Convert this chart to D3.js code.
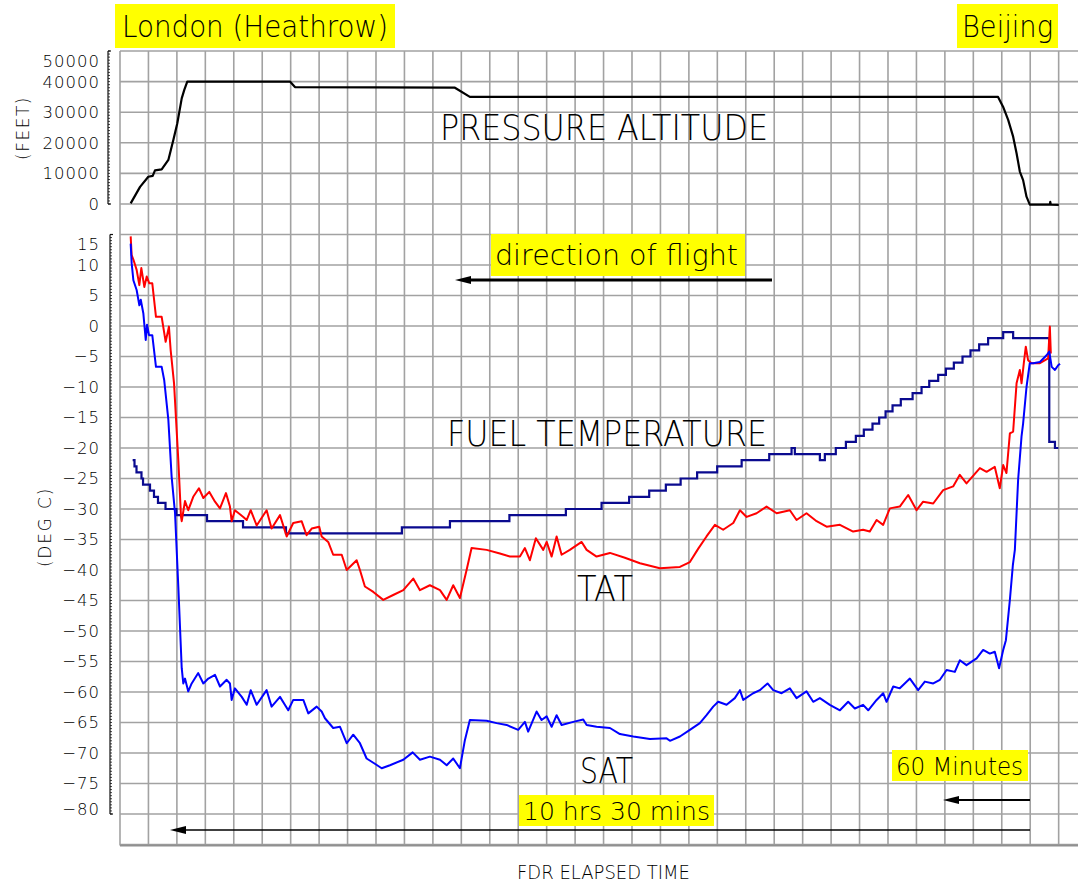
<!DOCTYPE html>
<html><head><meta charset="utf-8">
<script src="https://cdn.jsdelivr.net/npm/d3@7"></script>
<style>
body{margin:0;background:#fff}
svg{display:block}
text{font-family:"DejaVu Sans","Liberation Sans",sans-serif;font-weight:200;fill:#000}
</style>
</head><body>
<svg id="c" width="1078" height="885"></svg>
<script>
// ---------- DATA (time in minutes of FDR elapsed time) ----------
const altTicks = [0, 10000, 20000, 30000, 40000, 50000];
const tempTicks = [15, 10, 5, 0, -5, -10, -15, -20, -25, -30, -35, -40, -45, -50, -55, -60, -65, -70, -75, -80];

// Pressure altitude (feet)
const altitude = [
  [7.5,200],[14.1,5600],[19.9,8900],[23.0,9200],[24.6,11000],[29.3,11300],[34.0,14400],
  [37.5,20900],[40.3,26400],[43.4,34500],[45.2,37300],[47.3,40000],[119.5,40000],[123.0,38200],
  [235.5,38000],[246.0,35000],[617.4,35000],[620.9,31800],[624.5,27500],[628.0,22000],
  [630.4,16600],[632.7,10600],[635.0,7800],[637.4,2400],[639.7,-200],[653.8,-200],[654.1,700],
  [654.5,-200],[660.1,-300]
];

// Total air temperature (deg C)
const tat = [
  [7.5,14.7],[8.2,11.6],[9.4,10.9],[11.7,9.2],[13.6,6.7],[15.0,9.5],[17.1,6.4],[18.8,8.1],[20.6,7.0],
  [22.7,7.0],[25.3,1.5],[29.3,1.5],[32.1,-2.6],[34.4,-0.1],[35.6,-3.9],[38.0,-9.4],[41.0,-22],
  [42.9,-31.3],[43.4,-32],[45.7,-28.7],[48.0,-30.2],[51.5,-28],[55.5,-26.6],[58.6,-28.2],[62.8,-27.2],
  [66.8,-28.8],[70.3,-29.9],[74.5,-27.4],[77.3,-29.6],[78.5,-32],[80.8,-30.2],[86.7,-31.3],[89.1,-31.8],
  [91.9,-30.2],[96.1,-32.7],[103.1,-30.2],[106.6,-33.2],[112.5,-31],[117.2,-34.5],[121.8,-32.3],
  [127.7,-32],[131.2,-34.3],[134.8,-33.2],[140.1,-32.9],[141.8,-34.5],[146.4,-35.4],[149.9,-37.5],
  [155.9,-37.5],[159.4,-40],[166.4,-38.4],[168.7,-40],[172.2,-42.7],[178.1,-43.6],[185.1,-44.9],
  [192.1,-44.1],[199.2,-43.3],[206.2,-41.4],[210.9,-43.3],[217.9,-42.5],[225.0,-43.3],[229.7,-44.9],
  [234.3,-42.5],[239.0,-44.6],[243.7,-40],[247.2,-36.4],[257.8,-36.7],[267.1,-37.3],[274.2,-37.8],
  [281.2,-37.8],[284.7,-36.4],[288.2,-38.4],[292.4,-34.8],[297.6,-36.7],[300.0,-35.4],[303.5,-37.8],
  [307.0,-34.5],[310.5,-37.5],[316.3,-36.7],[324.6,-35.4],[328.1,-36.7],[335.1,-37.8],[344.5,-37.2],
  [355.0,-38],[365.6,-38.9],[379.6,-39.7],[393.7,-39.5],[400.7,-38.7],[406.6,-36.5],[412.4,-34.5],
  [418.3,-32.6],[424.1,-33.4],[431.2,-32.3],[435.9,-30.2],[440.6,-31.3],[447.6,-30.7],[454.6,-29.6],
  [461.7,-30.7],[471.0,-30.2],[475.7,-31.8],[482.7,-30.7],[489.8,-32],[496.8,-32.9],[506.2,-32.6],
  [515.5,-33.7],[522.5,-33.4],[527.2,-33.7],[532.0,-31.8],[536.6,-32.6],[541.3,-29.9],[548.3,-29.6],
  [554.2,-27.7],[560.1,-30.2],[564.7,-28.8],[571.8,-29.1],[578.8,-26.9],[585.8,-26.3],[590.5,-24.4],
  [595.2,-25.8],[604.6,-23.3],[609.3,-23.9],[615.1,-23.1],[618.6,-26.6],[621.0,-22.8],[623.3,-24.1],
  [625.7,-17.6],[628.0,-17.3],[630.4,-9.4],[632.7,-7.2],[633.9,-9.4],[635.5,-6.1],[636.9,-3.4],
  [638.5,-5.6],[640.9,-6.1],[646.8,-6.1],[652.6,-5.3],[653.8,-0.1],[654.5,-4.5]
];

// Static air temperature (deg C)
const sat = [
  [7.5,13.5],[8.2,10.3],[9.4,7.5],[11.7,5.9],[13.6,3.4],[14.6,4.3],[16.4,2.1],[18.1,-2.3],[19.0,0.2],
  [20.4,-1.5],[22.7,-1.5],[25.3,-6.7],[29.3,-6.7],[31.1,-8.9],[34.0,-15.4],[36.3,-24.7],[38.7,-30.7],
  [41.0,-42.7],[43.4,-56.1],[44.5,-58.6],[45.7,-57.8],[48.0,-59.9],[50.4,-58.6],[55.0,-56.9],
  [58.6,-58.6],[62.1,-57.8],[66.8,-57.2],[70.3,-59.1],[75.0,-58],[77.3,-58.6],[78.5,-61.3],[80.8,-59.4],
  [85.6,-60.8],[89.1,-62.1],[91.9,-59.7],[96.1,-62.1],[103.1,-59.7],[106.6,-62.4],[112.5,-60.8],
  [118.3,-63],[121.8,-61.3],[128.9,-61.3],[132.4,-63.5],[138.3,-62.4],[141.8,-63.2],[144.1,-64.3],
  [149.9,-65.9],[154.7,-65.7],[159.4,-68.4],[164.0,-67],[168.7,-68.4],[173.4,-70.9],[178.1,-71.6],
  [184.0,-72.5],[189.8,-72],[199.2,-71.1],[205.8,-69.9],[210.9,-71.1],[217.9,-70.6],[225.0,-71.1],
  [229.7,-72],[234.3,-70.9],[239.0,-72.5],[242.5,-67.9],[246.0,-64.6],[257.8,-64.7],[264.8,-65.1],
  [271.8,-65.4],[280.0,-66.2],[284.7,-64.9],[287.0,-66.5],[292.9,-63.2],[296.4,-64.6],[300.0,-64],
  [303.5,-65.7],[307.0,-63.8],[310.5,-65.4],[318.7,-64.9],[325.7,-64.5],[328.1,-65.4],[335.1,-65.7],
  [344.5,-65.9],[351.5,-66.9],[360.9,-67.3],[372.6,-67.7],[384.3,-67.6],[386.7,-68],[393.7,-67.3],
  [400.7,-66.2],[407.7,-65.1],[412.4,-63.8],[417.1,-62.4],[420.6,-61.6],[426.5,-62.1],[432.3,-61],
  [435.9,-59.7],[438.2,-61.3],[445.2,-60.2],[449.9,-59.7],[455.3,-58.6],[459.3,-59.7],[465.2,-60.2],
  [471.0,-59.4],[475.7,-61],[482.7,-59.9],[487.4,-61.6],[492.1,-61],[499.1,-62.1],[506.2,-63],
  [512.0,-61.6],[516.7,-62.7],[522.5,-62.1],[526.1,-63],[532.0,-61.3],[536.6,-60.2],[539.0,-61.6],
  [543.7,-59.1],[548.3,-59.4],[555.4,-57.8],[561.2,-59.7],[565.9,-58.3],[571.8,-58.6],[576.5,-58],
  [581.2,-56.4],[587.0,-56.7],[590.5,-54.8],[595.2,-55.6],[602.3,-54.5],[606.9,-53.1],[611.6,-53.7],
  [615.1,-53.4],[618.1,-56.1],[621.0,-53.1],[622.9,-51.5],[625.7,-44.9],[627.8,-39.2],[629.2,-36.7],
  [631.5,-25.2],[633.9,-18.1],[635.0,-16],[637.4,-10],[639.7,-6.1],[642.1,-6.1],[646.8,-5.9],
  [651.5,-4.8],[653.4,-4.2],[655.1,-6.7],[657.4,-7.2],[659.8,-6.4],[661.0,-6.2]
];

// Fuel temperature (deg C), value holds from each time until the next
const fuel = [
  [8.9,-22],[10.2,-23],[11.6,-24],[15.1,-25],[16.2,-26],[21.1,-27],[23.9,-28],[26.7,-29],[32.0,-30],
  [39.7,-31],[61.2,-32],[86.5,-33],[116.7,-34],[198.2,-33],[232.0,-32],[273.8,-31],[313.5,-30],
  [338.6,-29],[358.0,-28],[372.1,-27],[383.8,-26],[394.2,-25],[405.8,-24],[419.9,-23],[437.1,-22],
  [456.5,-21],[472.2,-20],[474.5,-21],[492.1,-22],[495.6,-21],[503.3,-20],[510.4,-19],[517.4,-18],
  [523.0,-17],[529.1,-16],[533.8,-15],[538.3,-14],[543.2,-13],[549.0,-12],[557.3,-11],[563.6,-10],
  [569.0,-9],[575.3,-8],[580.7,-7],[586.3,-6],[592.4,-5],[598.0,-4],[604.1,-3],[610.4,-2],[621.0,-1],
  [628.0,-2],[653.4,-19],[657.4,-20],[659.8,-20]
];

const gridMinutes = d3.range(0, 661, 20);

// ---------- SCALES ----------
const svg = d3.select("#c");
const x = d3.scaleLinear().domain([0, 673.6]).range([120, 1078]);
const yAlt = d3.scaleLinear().domain([0, 50000]).range([204, 51]);
const yT = d3.scaleLinear().domain([-85, 15]).range([844.5, 234.5]);

// ---------- GRID ----------
const g = svg.append("g").attr("stroke", "#a2a2a2").attr("stroke-width", 1.6);
gridMinutes.forEach(m => g.append("line").attr("x1", x(m)).attr("x2", x(m)).attr("y1", 51).attr("y2", 845.5));
altTicks.forEach(v => g.append("line").attr("x1", 120).attr("x2", 1078).attr("y1", yAlt(v)).attr("y2", yAlt(v)));
d3.range(-85, 16, 5).forEach(v => g.append("line").attr("x1", 120).attr("x2", 1078).attr("y1", yT(v)).attr("y2", yT(v)));
g.append("line").attr("x1", 120).attr("x2", 1078).attr("y1", 845.5).attr("y2", 845.5).attr("stroke", "#909090").attr("stroke-width", 2);

// ---------- AXES ----------
const ax = svg.append("g").attr("stroke", "#111").attr("stroke-width", 1.2);
ax.append("line").attr("x1", 108).attr("x2", 108).attr("y1", yAlt(50000)).attr("y2", yAlt(0));
d3.range(0, 50001, 1000).forEach(v => ax.append("line").attr("x1", 108).attr("x2", 110).attr("y1", yAlt(v)).attr("y2", yAlt(v)).attr("stroke-width", 0.8));
[0, 50000].forEach(v => ax.append("line").attr("x1", 108).attr("x2", 111).attr("y1", yAlt(v)).attr("y2", yAlt(v)));
ax.append("line").attr("x1", 110).attr("x2", 110).attr("y1", yT(15)).attr("y2", yT(-80));
d3.range(-80, 15.01, 0.5).forEach(v => ax.append("line").attr("x1", 110).attr("x2", 112).attr("y1", yT(v)).attr("y2", yT(v)).attr("stroke-width", 0.8));
[15, -80].forEach(v => ax.append("line").attr("x1", 110).attr("x2", 113).attr("y1", yT(v)).attr("y2", yT(v)));

const fmtAlt = d => String(d);
const fmtT = d => d < 0 ? "\u2212" + Math.abs(d) : String(d);
svg.append("g").selectAll("text").data(altTicks).join("text")
  .attr("x", 100).attr("y", d => yAlt(d) + (d === 50000 ? 10 : 0)).attr("dy", "0.36em")
  .attr("text-anchor", "end").attr("font-size", 16.5).attr("letter-spacing", 1)
  .text(fmtAlt);
svg.append("g").selectAll("text").data(tempTicks).join("text")
  .attr("x", 100).attr("y", d => yT(d) + (d === 15 ? 9.5 : d === -80 ? -5 : 0)).attr("dy", "0.36em")
  .attr("text-anchor", "end").attr("font-size", 16.5).attr("letter-spacing", 1)
  .text(fmtT);

svg.append("text").attr("transform", "translate(29,128) rotate(-90)").attr("text-anchor", "middle")
  .attr("font-size", 17).attr("letter-spacing", 1.5).text("(FEET)");
svg.append("text").attr("transform", "translate(51,527) rotate(-90)").attr("text-anchor", "middle")
  .attr("font-size", 17).attr("letter-spacing", 1.8).text("(DEG C)");

// ---------- SERIES ----------
const lineAlt = d3.line().x(d => x(d[0])).y(d => yAlt(d[1]));
const lineT = d3.line().x(d => x(d[0])).y(d => yT(d[1]));
const lineStep = d3.line().x(d => x(d[0])).y(d => yT(d[1])).curve(d3.curveStepAfter);

svg.append("path").attr("d", lineStep(fuel)).attr("fill", "none").attr("stroke", "#0a0a8f").attr("stroke-width", 2.2);
svg.append("path").attr("d", lineT(tat)).attr("fill", "none").attr("stroke", "#ff0000").attr("stroke-width", 2).attr("stroke-linejoin", "round");
svg.append("path").attr("d", lineT(sat)).attr("fill", "none").attr("stroke", "#0000ff").attr("stroke-width", 2).attr("stroke-linejoin", "round");
svg.append("path").attr("d", lineAlt(altitude)).attr("fill", "none").attr("stroke", "#000").attr("stroke-width", 2.2).attr("stroke-linejoin", "round");

// ---------- ANNOTATIONS ----------
function label(txt, x0, base, size, len, box) {
  if (box) svg.append("rect").attr("x", box[0]).attr("y", box[1]).attr("width", box[2] - box[0]).attr("height", box[3] - box[1]).attr("fill", "#ffff00");
  svg.append("text").attr("x", x0).attr("y", base).attr("font-size", size)
    .attr("textLength", len).attr("lengthAdjust", "spacingAndGlyphs").text(txt);
}
label("London (Heathrow)", 122, 37, 30, 266, [115, 4, 395, 48]);
label("Beijing", 962, 37, 30, 91, [957, 4, 1058, 48]);
label("PRESSURE ALTITUDE", 440, 140, 35, 328);
label("FUEL TEMPERATURE", 447, 446, 35, 320);
label("TAT", 577, 601, 35, 56);
label("SAT", 580, 783, 35, 53);
label("direction of flight", 495, 265, 29, 243, [491, 234, 745, 276]);
label("60 Minutes", 896, 775, 25, 127, [892, 750, 1028, 781]);
label("10 hrs 30 mins", 523, 820, 25, 187, [519, 795, 714, 826]);
label("FDR ELAPSED TIME", 517, 879, 20, 173);

function arrow(x1, x2, y, w) {
  svg.append("line").attr("x1", x1).attr("x2", x2 + 10).attr("y1", y).attr("y2", y).attr("stroke", "#000").attr("stroke-width", w);
  svg.append("path").attr("d", `M${x2},${y} L${x2 + 16},${y - 4} L${x2 + 16},${y + 4} Z`).attr("fill", "#000");
}
arrow(772, 455, 280, 3);
arrow(1030, 943, 800, 2);
arrow(1030, 170, 830, 1.6);
</script>
</body></html>
